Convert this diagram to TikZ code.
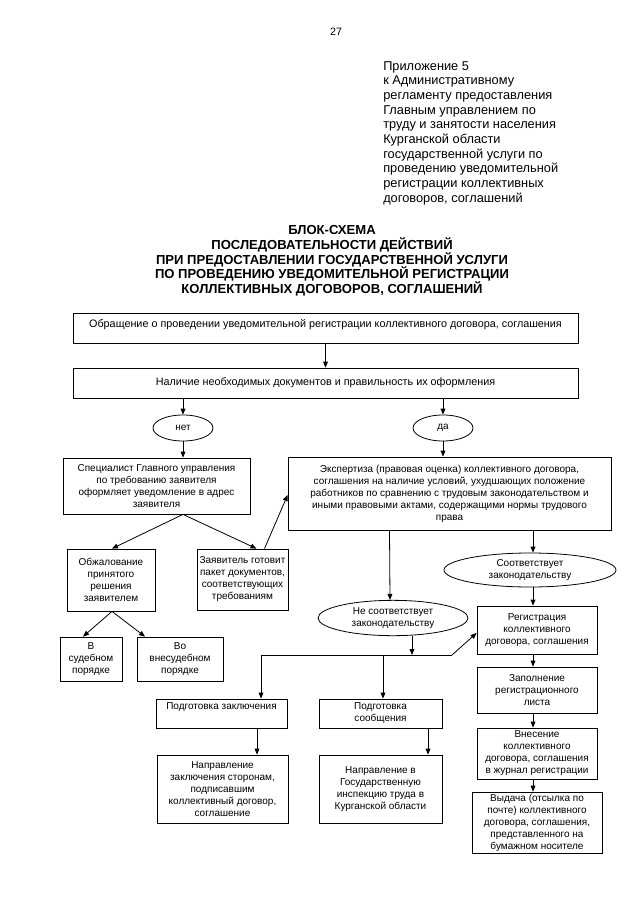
\documentclass[tikz,border=0pt]{standalone}
\usepackage{fontspec}
\setmainfont{Liberation Sans}
\usetikzlibrary{arrows.meta,shapes.geometric,calc}
\begin{document}
\begin{tikzpicture}[x=0.75pt,y=-0.75pt,
  every node/.style={inner sep=0pt},
  box/.style={draw,line width=0.6pt,rectangle,align=center,font=\fontsize{7.5}{9}\selectfont,minimum width=#1},
  ell/.style={draw,line width=0.6pt,ellipse,align=center,font=\fontsize{7.5}{9}\selectfont},
  arr/.style={line width=0.6pt,-{Triangle[length=4.5pt,width=3.6pt]}},
  ln/.style={line width=0.6pt}]
\useasboundingbox (0,0) rectangle (640,905);
\fill[white] (0,0) rectangle (640,905);

\node (pg) at (336,32) {\fontsize{8}{9}\selectfont 27};
\node[anchor=north west,align=left,font=\fontsize{9.6}{11}\selectfont] (app) at (383,61)
 {Приложение 5\\к Административному\\регламенту предоставления\\Главным управлением по\\труду и занятости населения\\Курганской области\\государственной услуги по\\проведению уведомительной\\регистрации коллективных\\договоров, соглашений};
\node[align=center,font=\fontsize{9.8}{11}\bfseries] (title) at (332,261)
 {БЛОК-СХЕМА\\ПОСЛЕДОВАТЕЛЬНОСТИ ДЕЙСТВИЙ\\ПРИ ПРЕДОСТАВЛЕНИИ ГОСУДАРСТВЕННОЙ УСЛУГИ\\ПО ПРОВЕДЕНИЮ УВЕДОМИТЕЛЬНОЙ РЕГИСТРАЦИИ\\КОЛЛЕКТИВНЫХ ДОГОВОРОВ, СОГЛАШЕНИЙ};

\node[box=378.75pt,minimum height=22.5pt,text height=11pt,text depth=11.5pt,font=\fontsize{8.1}{9.5}\selectfont] (top) at (325.5,328)
 {Обращение о проведении уведомительной регистрации коллективного договора, соглашения};
\node[box=378.75pt,minimum height=22.5pt,font=\fontsize{8.1}{9.5}\selectfont] (nal) at (325.5,383)
 {Наличие необходимых документов и правильность их оформления};
\node[ell,minimum width=45pt,minimum height=19.5pt] (net) at (183,428) {нет};
\node[ell,minimum width=45pt,minimum height=19.5pt] (da) at (443,428) {да};
\node[box=140.25pt,minimum height=42pt] (spec) at (156.5,486)
 {Специалист Главного управления\\по требованию заявителя\\оформляет уведомление в адрес\\заявителя};
\node[box=242.25pt,minimum height=54.75pt] (exp) at (449.5,493.5)
 {Экспертиза (правовая оценка) коллективного договора,\\соглашения на наличие условий, ухудшающих положение\\работников по сравнению с трудовым законодательством и\\иными правовыми актами, содержащими нормы трудового\\права};
\node[box=66pt,minimum height=46.5pt] (obzh) at (111,580)
 {Обжалование\\принятого\\решения\\заявителем};
\node[box=68.25pt,minimum height=45.75pt] (zayav) at (242.5,579.5)
 {Заявитель готовит\\пакет документов,\\соответствующих\\требованиям};
\node[box=46.5pt,minimum height=33pt] (sud) at (91,659) {В\\судебном\\порядке};
\node[box=64.5pt,minimum height=33pt] (vnesud) at (180,659) {Во\\внесудебном\\порядке};
\node[ell,minimum width=129pt,minimum height=25.5pt] (sootv) at (530,570)
 {Соответствует\\законодательству};
\node[ell,minimum width=112.5pt,minimum height=26.5pt] (nesootv) at (393,618)
 {Не соответствует\\законодательству};
\node[box=90pt,minimum height=36pt] (reg) at (537,630)
 {Регистрация\\коллективного\\договора, соглашения};
\node[box=90pt,minimum height=34.5pt] (zap) at (537,690)
 {Заполнение\\регистрационного\\листа};
\node[box=90pt,minimum height=38.25pt] (vnes) at (537,753.5)
 {Внесение\\коллективного\\договора, соглашения\\в журнал регистрации};
\node[box=97.5pt,minimum height=46pt] (vyd) at (537,822.7)
 {Выдача (отсылка по\\почте) коллективного\\договора, соглашения,\\представленного на\\бумажном носителе};
\node[box=98.25pt,minimum height=21.75pt,text height=8pt,text depth=13.75pt] (podzak) at (221.5,713.5)
 {Подготовка заключения};
\node[box=92.25pt,minimum height=21.75pt] (podsoob) at (380.5,713.5)
 {Подготовка\\сообщения};
\node[box=98.25pt,minimum height=51pt] (napzak) at (222.5,789)
 {Направление\\заключения сторонам,\\подписавшим\\коллективный договор,\\соглашение};
\node[box=92.25pt,minimum height=51pt] (napgit) at (380.5,789)
 {Направление в\\Государственную\\инспекцию труда в\\Курганской области};

\coordinate (j) at (412,655);
\coordinate (hl) at (261,655);
\coordinate (hr) at (452,655);
\coordinate (xs) at (383,655);
\coordinate (xr) at (533,0);

\draw[arr] (top.south) -- (nal.north);
\draw[arr] (net.north |- nal.south) -- (net.north);
\draw[arr] (da.north |- nal.south) -- (da.north);
\draw[arr] (net.south) -- (net.south |- spec.north);
\draw[arr] (da.south) -- (da.south |- exp.north);
\draw[arr] (net.south |- spec.south) -- ($(obzh.north)+(1,0)$);
\draw[arr] (net.south |- spec.south) -- ($(zayav.north)+(14,0)$);
\draw[arr] ($(zayav.north)+(22,0)$) -- ($(exp.west)+(0,1.5)$);
\draw[arr] ($(obzh.south)+(1,0)$) -- ($(sud.north)+(-8,0)$);
\draw[arr] ($(obzh.south)+(1,0)$) -- ($(vnesud.north)+(-35,0)$);
\draw[arr] ($(exp.south)+(-60,0)$) -- ($(nesootv.north)+(-3,0)$);
\draw[arr] (xr |- exp.south) -- (xr |- sootv.north);
\draw[arr] (xr |- sootv.south) -- (xr |- reg.north);
\draw[arr] (xr |- reg.south) -- (xr |- zap.north);
\draw[arr] (xr |- zap.south) -- (xr |- vnes.north);
\draw[arr] (xr |- vnes.south) -- (xr |- vyd.north);
\draw[arr] (j |- nesootv.south) -- (j);
\draw[ln] (hl) -- (hr);
\draw[arr] (hr) -- ($(reg.west)+(0,3)$);
\draw[arr] (hl) -- (hl |- podzak.north);
\draw[arr] (xs) -- (xs |- podsoob.north);
\draw[arr] ($(podzak.south)+(35.5,0)$) -- ($(napzak.north)+(34.5,0)$);
\draw[arr] ($(podsoob.south)+(47.5,0)$) -- ($(napgit.north)+(47.5,0)$);
\end{tikzpicture}
\end{document}
